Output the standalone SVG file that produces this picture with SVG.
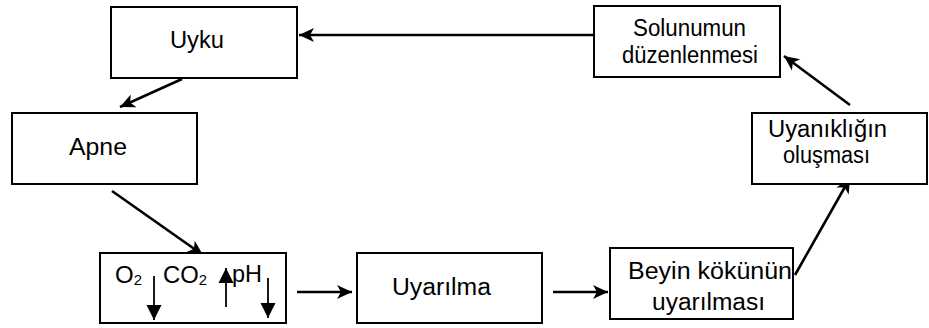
<svg xmlns="http://www.w3.org/2000/svg" width="929" height="328" viewBox="0 0 929 328">
<style>
.box{fill:#fff;stroke:#000;stroke-width:2}
.t{font-family:"Liberation Sans",Arial,sans-serif;font-size:23.5px;fill:#000}
.s{font-family:"Liberation Sans",Arial,sans-serif;font-size:24px;fill:#000}
.ln{stroke:#000;stroke-width:2.6;fill:none}
.ar{stroke:#000;stroke-width:1.8;fill:none}
</style>
<defs>
<marker id="ah" markerUnits="userSpaceOnUse" markerWidth="20" markerHeight="20" viewBox="-16 -10 18 20" refX="0" refY="0" orient="auto">
<path d="M0,0 L-15,-7 L-11,0 L-15,7 z" fill="#000"/>
</marker>
<marker id="th" markerUnits="userSpaceOnUse" markerWidth="20" markerHeight="20" viewBox="-16 -10 18 20" refX="0" refY="0" orient="auto">
<path d="M0,0 L-15,-7.5 L-15,7.5 z" fill="#000"/>
</marker>
</defs>
<g id="connectors">
<line class="ln" x1="593" y1="35" x2="299" y2="35" marker-end="url(#ah)"/>
<line class="ln" x1="182" y1="79" x2="120" y2="107" marker-end="url(#ah)"/>
<line class="ln" x1="112" y1="191" x2="203" y2="255" marker-end="url(#ah)"/>
<line class="ln" x1="297" y1="292" x2="352" y2="292" marker-end="url(#ah)"/>
<line class="ln" x1="553" y1="292" x2="608" y2="292" marker-end="url(#ah)"/>
<line class="ln" x1="795" y1="275" x2="850" y2="178" marker-end="url(#ah)"/>
<line class="ln" x1="850" y1="105" x2="784" y2="56" marker-end="url(#ah)"/>
</g>
<g id="uyku">
<rect class="box" x="111" y="7" width="186" height="71"/>
<text class="t" x="170" y="48" textLength="54" lengthAdjust="spacingAndGlyphs">Uyku</text>
</g>
<g id="apne">
<rect class="box" x="12" y="113" width="185" height="71"/>
<text class="t" x="69" y="155" textLength="58" lengthAdjust="spacingAndGlyphs">Apne</text>
</g>
<g id="gazlar">
<rect class="box" x="100" y="253" width="186" height="70"/>
<text class="s" x="115" y="283">O<tspan font-size="15" dy="2">2</tspan></text>
<text class="s" x="163" y="283" textLength="44" lengthAdjust="spacingAndGlyphs">CO<tspan font-size="15" dy="2">2</tspan></text>
<text class="s" x="232" y="282" textLength="30" lengthAdjust="spacingAndGlyphs">pH</text>
<line class="ar" x1="154" y1="276" x2="154" y2="320" marker-end="url(#th)"/>
<line class="ar" x1="226" y1="307" x2="226" y2="268" marker-end="url(#th)"/>
<line class="ar" x1="268" y1="278" x2="268" y2="318" marker-end="url(#th)"/>
</g>
<g id="uyarilma">
<rect class="box" x="357" y="253" width="185" height="70"/>
<text class="t" x="392" y="295" textLength="99" lengthAdjust="spacingAndGlyphs">Uyarılma</text>
</g>
<g id="beyin">
<rect class="box" x="610" y="248" width="183" height="71"/>
<text class="t" x="628" y="279" textLength="164" lengthAdjust="spacingAndGlyphs">Beyin kökünün</text>
<text class="t" x="652" y="310" textLength="113" lengthAdjust="spacingAndGlyphs">uyarılması</text>
</g>
<g id="uyaniklik">
<rect class="box" x="752" y="113" width="175" height="71"/>
<text class="t" x="768" y="137" textLength="119" lengthAdjust="spacingAndGlyphs">Uyanıklığın</text>
<text class="t" x="783" y="163" textLength="87" lengthAdjust="spacingAndGlyphs">oluşması</text>
</g>
<g id="solunum">
<rect class="box" x="594" y="6" width="186" height="71"/>
<text class="t" x="633" y="36" textLength="113" lengthAdjust="spacingAndGlyphs">Solunumun</text>
<text class="t" x="622" y="63" textLength="136" lengthAdjust="spacingAndGlyphs">düzenlenmesi</text>
</g>
</svg>
